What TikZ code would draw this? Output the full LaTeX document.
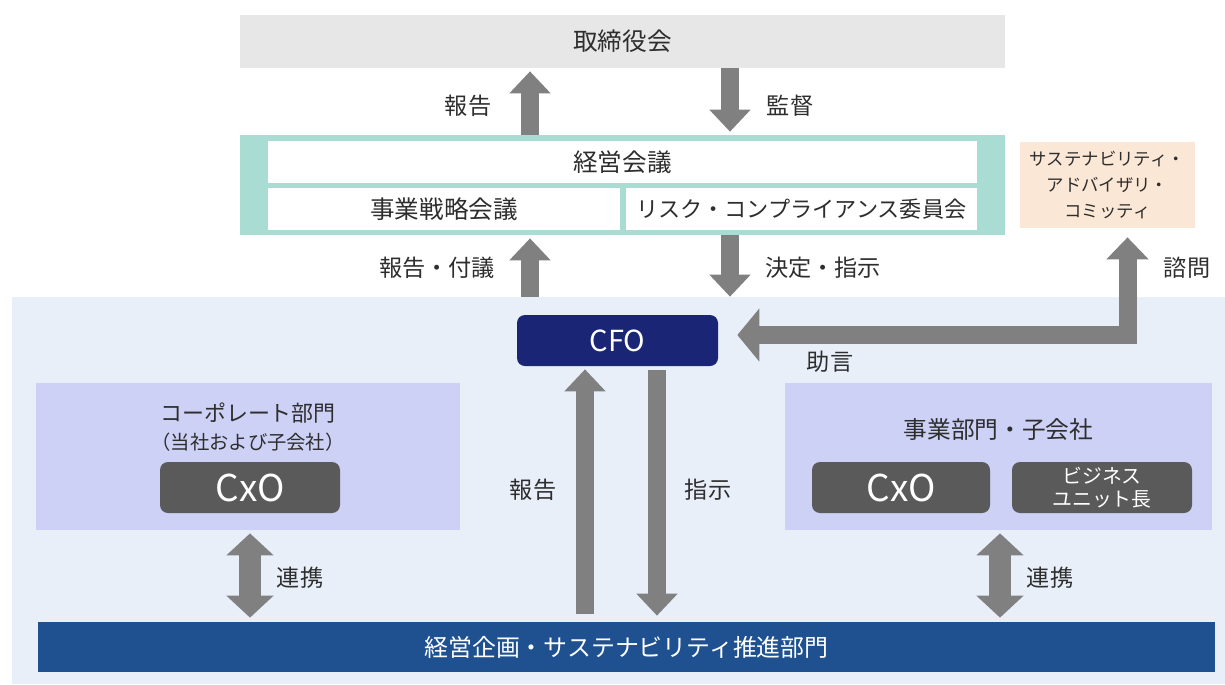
\documentclass[tikz,border=0pt]{standalone}
\usepackage{fontspec}
\setmainfont{Noto Sans CJK JP}
\usepackage{tikz}
\usetikzlibrary{arrows.meta,calc}
\definecolor{boardgray}{HTML}{E7E7E7}
\definecolor{mgmtteal}{HTML}{A9DDD4}
\definecolor{advorange}{HTML}{FBE7D5}
\definecolor{panelblue}{HTML}{E8EFF9}
\definecolor{unitlav}{HTML}{CDD1F5}
\definecolor{cxogray}{HTML}{5A5A5A}
\definecolor{cfonavy}{HTML}{1A2575}
\definecolor{barblue}{HTML}{1F5190}
\definecolor{arrowgray}{HTML}{808080}
\definecolor{txtgray}{HTML}{2E2E2E}

\begin{document}
\begin{tikzpicture}[x=0.02cm, y=-0.02cm, text=txtgray,
box/.style 2 args={minimum width=#1*0.02cm, minimum height=#2*0.02cm, inner sep=0pt, anchor=center},
fs/.style 2 args={font=\fontsize{#1}{#2}\selectfont},
lbl/.style={fs={13.2}{15}},
dark/.style={fill=cxogray, text=white, rounded corners=0.16cm, fs={21}{23}},
fat/.style={draw=arrowgray, line width=0.36cm, line join=miter,
    -{Triangle[width=0.8cm, length=0.44cm]}},
fatboth/.style={draw=arrowgray, line width=0.44cm,
    {Triangle[width=0.92cm, length=0.44cm]}-{Triangle[width=0.92cm, length=0.44cm]}}]
\useasboundingbox (0,0) rectangle (1225,684);

% background panel
\node[box={1213}{387}, fill=panelblue] (panel) at (618.5,490.5) {};

% top part
\node[box={765}{53}, fill=boardgray, fs={14}{16}] (board) at (622.5,41.5) {取締役会};
\node[box={765}{100}, fill=mgmtteal] (mgmt) at (622.5,185) {};
\node[box={709}{42}, fill=white, fs={14}{16}] (keiei) at (622.5,162) {経営会議};
\node[box={352}{42}, fill=white, fs={14}{16}] (jigyo) at (444,209) {事業戦略会議};
\node[box={351}{42}, fill=white, fs={12.6}{15}] (risk) at (801.5,209) {リスク・コンプライアンス委員会};
\node[box={175}{86}, fill=advorange, align=center, fs={9.9}{14.8}] (adv) at (1107.5,185)
  {サステナビリティ・\\アドバイザリ・\\コミッティ};

% CFO and units
\node[box={201}{51}, fill=cfonavy, text=white, rounded corners=0.16cm, fs={16.5}{18}] (cfo) at (617.5,340.5) {CFO};
\node[box={424}{147}, fill=unitlav] (corp) at (248,456.5) {};
\node[align=center, fs={12.5}{16}] (corptitle) at (248,427)
  {コーポレート部門\\{\fontsize{11}{13}\selectfont （当社および子会社）}};
\node[box={180}{51}, dark] (corpcxo) at (250,487.5) {CxO};
\node[box={427}{147}, fill=unitlav] (biz) at (998.5,456.5) {};
\node[fs={13.5}{16}] (biztitle) at (998.5,430) {事業部門・子会社};
\node[box={178}{51}, dark] (bizcxo) at (901,487.5) {CxO};
\node[box={180}{51}, dark, align=center, fs={11.3}{13}] (bu) at (1102,487.5) {ビジネス\\ユニット長};
\node[box={1177}{50}, fill=barblue, text=white, fs={13.6}{16}] (bar) at (626.5,647)
  {経営企画・サステナビリティ推進部門};

% arrows
\coordinate (colA) at (530,0);
\coordinate (colB) at (730,0);
\coordinate (colC) at (585,0);
\coordinate (colD) at (657,0);
\draw[fat] (mgmt.north -| colA) -- ($(board.south -| colA)+(0,3)$);
\draw[fat] (board.south -| colB) -- ($(mgmt.north -| colB)+(0,-3)$);
\draw[fat] (panel.north -| colA) -- ($(mgmt.south -| colA)+(0,3)$);
\draw[fat] (mgmt.south -| colB) -- ($(panel.north -| colB)+(0,0)$);
\draw[fat] ($(bar.north -| colC)+(0,-8)$) -- ($(cfo.south -| colC)+(0,3)$);
\draw[fat] ($(cfo.south -| colD)+(0,4)$) -- ($(bar.north -| colD)+(0,-6)$);
\draw[fatboth] ($(corp.south)+(2,3)$) -- ($(bar.north)+(-376.5,-4)$);
\draw[fatboth] ($(biz.south)+(1.5,3)$) -- ($(bar.north)+(373.5,-4)$);
\coordinate (advL) at ($(cfo.east)+(19,-5.5)$);
\coordinate (advU) at ($(adv.south)+(20,9)$);
\draw[fat, {Triangle[width=1.04cm, length=0.44cm]}-{Triangle[width=0.82cm, length=0.44cm]}]
  (advL) -| (advU);

% labels
\node[lbl] (l1) at (468,106) {報告};
\node[lbl] (l2) at (790,106) {監督};
\node[lbl] (l3) at (437,268) {報告・付議};
\node[lbl] (l4) at (823,268) {決定・指示};
\node[lbl] (l5) at (1187,268) {諮問};
\node[lbl] (l6) at (830,362) {助言};
\node[lbl] (l7) at (533,490) {報告};
\node[lbl] (l8) at (708,490) {指示};
\node[lbl] (l9) at (300,578) {連携};
\node[lbl] (l10) at (1050,578) {連携};
\end{tikzpicture}
\end{document}
